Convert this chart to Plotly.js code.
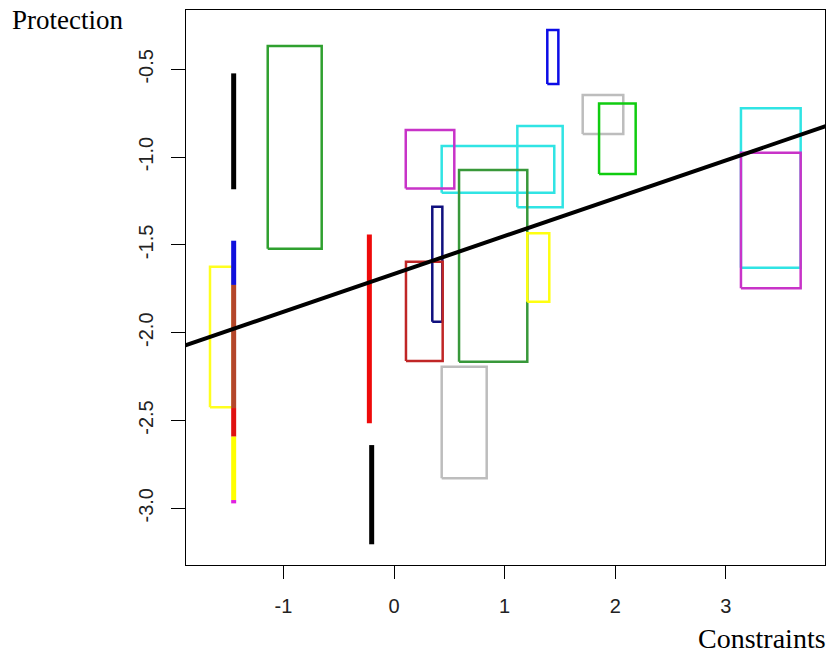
<!DOCTYPE html>
<html>
<head>
<meta charset="utf-8">
<script src="https://cdn.plot.ly/plotly-3.0.1.min.js"></script>
<style>html,body{margin:0;padding:0;background:#fff;}#chart{width:830px;height:658px;}</style>
</head>
<body>
<div id="chart"></div>
<script>
// Rectangles (x interval, y interval)
const rectXmin = [-1.142, 0.431, 0.106, 1.115, 0.588, 0.346, 0.108, 1.205, 0.431, 1.386, 1.706, 1.854, 3.137, 3.137, -1.664];
const rectXmax = [-0.654, 1.449, 0.545, 1.525, 1.205, 0.437, 0.440, 1.404, 0.838, 1.486, 2.073, 2.185, 3.677, 3.677, -1.458];
const rectYmin = [-1.522, -1.203, -1.178, -1.286, -2.165, -1.937, -2.161, -1.823, -2.829, -0.584, -0.868, -1.096, -1.630, -1.747, -2.425];
const rectYmax = [-0.367, -0.937, -0.846, -0.823, -1.073, -1.282, -1.596, -1.434, -2.194, -0.276, -0.646, -0.694, -0.722, -0.975, -1.624];
const rectColors = ['#2fa02f', '#30e4e4', '#c833c8', '#30e4e4', '#38983a', '#10107e', '#c02626', '#ffff10', '#bdbdbd', '#0c0ce6', '#bdbdbd', '#10cc10', '#30e4e4', '#c833c8', '#ffff20'];

// Degenerate (zero-width) intervals drawn as vertical bars
const segX = [-1.45, -1.45, -1.45, -1.45, -1.45, -1.45, -0.223, -0.202];
const segYmin = [-1.183, -1.728, -2.429, -2.592, -2.953, -2.972, -2.516, -3.205];
const segYmax = [-0.523, -1.476, -1.728, -2.429, -2.592, -2.953, -1.440, -2.640];
const segColors = ['#000000', '#1010dd', '#b4462a', '#e01010', '#ffff00', '#e020e0', '#ee0a0a', '#000000'];

// Fitted line
const fitIntercept = -1.665;
const fitSlope = 0.2155;

const xTicks = [-1, 0, 1, 2, 3];
const xTickText = ['-1', '0', '1', '2', '3'];
const yTicks = [-0.5, -1.0, -1.5, -2.0, -2.5, -3.0];
const yTickText = ['-0.5', '-1.0', '-1.5', '-2.0', '-2.5', '-3.0'];

const xRange = [-1.881, 3.897];
const yRange = [-3.323, -0.162];

const traces = [];
for (let i = 0; i < rectXmin.length; i++) {
  traces.push({
    type: 'scatter', mode: 'lines', hoverinfo: 'skip', showlegend: false,
    x: [rectXmin[i], rectXmax[i], rectXmax[i], rectXmin[i], rectXmin[i]],
    y: [rectYmin[i], rectYmin[i], rectYmax[i], rectYmax[i], rectYmin[i]],
    line: {color: rectColors[i], width: 2.5}
  });
}
for (let i = 0; i < segX.length; i++) {
  traces.push({
    type: 'scatter', mode: 'lines', hoverinfo: 'skip', showlegend: false,
    x: [segX[i], segX[i]],
    y: [segYmin[i], segYmax[i]],
    line: {color: segColors[i], width: 5}
  });
}
const fitX = [xRange[0] - 0.1, xRange[1] + 0.1];
traces.push({
  type: 'scatter', mode: 'lines', hoverinfo: 'skip', showlegend: false,
  x: fitX,
  y: fitX.map(v => fitIntercept + fitSlope * v),
  line: {color: '#000000', width: 4}
});

const tickFont = {family: 'Liberation Sans, Arial, sans-serif', size: 20, color: '#222'};
const layout = {
  width: 830, height: 658,
  margin: {l: 186, r: 5, t: 10, b: 93},
  paper_bgcolor: '#fff', plot_bgcolor: '#fff',
  showlegend: false,
  xaxis: {
    range: xRange, tickmode: 'array', tickvals: xTicks, ticktext: xTickText,
    ticks: 'outside', ticklen: 13, tickwidth: 1, tickcolor: '#000',
    showline: true, mirror: true, linecolor: '#000', linewidth: 1,
    showgrid: false, zeroline: false, tickfont: tickFont, ticklabelstandoff: 10
  },
  yaxis: {
    range: yRange, tickmode: 'array', tickvals: yTicks, ticktext: yTickText,
    ticks: 'outside', ticklen: 14, tickwidth: 1, tickcolor: '#000',
    showline: true, mirror: true, linecolor: '#000', linewidth: 1,
    showgrid: false, zeroline: false, tickfont: tickFont, tickangle: -90, ticklabelstandoff: 10
  },
  annotations: [
    {text: 'Protection', xref: 'paper', yref: 'paper', x: 0, y: 1, xanchor: 'left', yanchor: 'middle',
     xshift: -176, yshift: -10, showarrow: false,
     font: {family: 'Liberation Serif, Times New Roman, serif', size: 27, color: '#000'}},
    {text: 'Constraints', xref: 'paper', yref: 'paper', x: 1, y: 0, xanchor: 'right', yanchor: 'middle',
     xshift: 3, yshift: -73, showarrow: false,
     font: {family: 'Liberation Serif, Times New Roman, serif', size: 28, color: '#000'}}
  ]
};
Plotly.newPlot('chart', traces, layout, {staticPlot: true, displayModeBar: false});
</script>
</body>
</html>
